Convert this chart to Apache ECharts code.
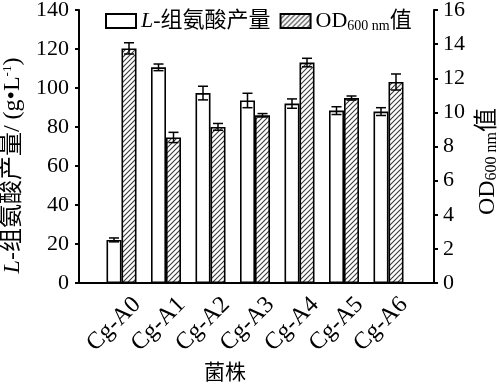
<!DOCTYPE html>
<html><head><meta charset="utf-8">
<script src="https://cdn.jsdelivr.net/npm/echarts@6/dist/echarts.min.js"></script>
<style>html,body{margin:0;padding:0;background:#fff}#c{width:499px;height:384px}</style>
</head><body><div id="c"></div>
<script>
const categories = ['Cg-A0','Cg-A1','Cg-A2','Cg-A3','Cg-A4','Cg-A5','Cg-A6'];
const hisValues = [22.1, 110.6, 97.4, 93.6, 92.0, 88.4, 87.9];
const hisErrors = [1.0, 1.7, 3.5, 3.7, 2.4, 2.0, 2.0];
const odValues = [13.75, 8.53, 9.15, 9.83, 12.92, 10.84, 11.78];
const odErrors = [0.33, 0.3, 0.2, 0.1, 0.25, 0.12, 0.47];
const leftTicks = {min: 0, max: 140, interval: 20};
const rightTicks = {min: 0, max: 16, interval: 2};

const FONT = '"Liberation Serif", "Noto Sans CJK SC", serif';
const BW = 15;

function hatch() {
  const c = document.createElement('canvas');
  c.width = 5; c.height = 5;
  const g = c.getContext('2d');
  g.fillStyle = '#ffffff'; g.fillRect(0,0,5,5);
  g.strokeStyle = '#3a3a3a'; g.lineWidth = 1.1;
  g.beginPath();
  g.moveTo(-1,6); g.lineTo(6,-1);
  g.moveTo(-1,1); g.lineTo(1,-1);
  g.moveTo(4,6); g.lineTo(6,4);
  g.stroke();
  return {image: c, repeat: 'repeat'};
}
const hatchColor = hatch();

function errItem(offset) {
  return function(params, api) {
    const i = api.value(0), v = api.value(1), e = api.value(2);
    const top = api.coord([i, v + e]);
    const bot = api.coord([i, v - e]);
    const x = top[0] + offset;
    const cap = 5;
    const st = {stroke: '#000', lineWidth: 1.5};
    return {type: 'group', children: [
      {type: 'line', shape: {x1: x, y1: top[1], x2: x, y2: bot[1]}, style: st},
      {type: 'line', shape: {x1: x - cap, y1: top[1], x2: x + cap, y2: top[1]}, style: st},
      {type: 'line', shape: {x1: x - cap, y1: bot[1], x2: x + cap, y2: bot[1]}, style: st}
    ]};
  };
}

function rich(size, subSize, subPad) {
  return {
    i: {fontFamily: FONT, fontStyle: 'italic', fontSize: size, color: '#000'},
    n: {fontFamily: FONT, fontSize: size, color: '#000'},
    sub: {fontFamily: FONT, fontSize: subSize, color: '#000', verticalAlign: 'bottom', padding: [subPad, 0, 0, 0]},
    sup: {fontFamily: FONT, fontSize: subSize, color: '#000', verticalAlign: 'top', padding: [0, 0, Math.round(size * 0.45), 0]}
  };
}

const gridBase = {top: 10, bottom: 101, containLabel: false, outerBoundsMode: 'none'};
const chart = echarts.init(document.getElementById('c'), null, {renderer: 'canvas'});
chart.setOption({
  animation: false,
  backgroundColor: '#fff',
  textStyle: {fontFamily: FONT, color: '#000'},
  grid: [
    Object.assign({left: 79, right: 65}, gridBase),
    Object.assign({left: 99.25, right: 88.25}, gridBase),
    Object.assign({left: 114.75, right: 72.75}, gridBase)
  ],
  legend: {
    left: 105, top: 10, padding: 0, itemWidth: 30, itemHeight: 14, itemGap: 9, icon: 'rect',
    data: ['his', 'od'],
    formatter: n => n === 'his' ? '{i|L}{n|-组氨酸产量}' : '{n|OD}{sub|600 nm}{n|值}',
    textStyle: {fontFamily: FONT, fontSize: 22, color: '#000', rich: rich(22, 14, 11)},
    selectedMode: false
  },
  xAxis: [
    {type: 'value', gridIndex: 0, min: 0, max: 1,
      axisLine: {show: true, lineStyle: {color: '#000', width: 2}},
      axisTick: {show: false}, axisLabel: {show: false}, splitLine: {show: false}},
    {type: 'category', gridIndex: 1, data: categories,
      axisLine: {show: false}, axisTick: {show: false}, splitLine: {show: false},
      axisLabel: {show: false},
      name: '菌株', nameLocation: 'middle', nameGap: 80,
      nameTextStyle: {fontSize: 21, fontFamily: FONT, color: '#000', padding: [0, 60, 0, 0]}},
    {type: 'category', gridIndex: 2, data: categories,
      axisLine: {show: false}, axisTick: {show: false}, splitLine: {show: false},
      axisLabel: {rotate: 45, margin: 18, fontSize: 24, fontFamily: FONT, color: '#000', interval: 0}}
  ],
  yAxis: [
    {type: 'value', gridIndex: 0, position: 'left', min: leftTicks.min, max: leftTicks.max, interval: leftTicks.interval,
      axisLine: {show: true, lineStyle: {color: '#000', width: 2}},
      axisTick: {show: true, inside: false, length: 4, lineStyle: {color: '#000', width: 2}},
      splitLine: {show: false},
      axisLabel: {fontSize: 22, fontFamily: FONT, color: '#000', margin: 10},
      name: '{i|L}{n|-组氨酸产量/ (g•L}{sup|-1}{n|)}', nameLocation: 'middle', nameGap: 42, nameRotate: 90,
      nameTextStyle: {fontSize: 24, fontFamily: FONT, color: '#000', rich: rich(24, 13, 12), padding: [0, 38, 0, 0]}},
    {type: 'value', gridIndex: 0, position: 'right', min: rightTicks.min, max: rightTicks.max, interval: rightTicks.interval,
      axisLine: {show: true, lineStyle: {color: '#000', width: 2}},
      axisTick: {show: true, inside: false, length: 4, lineStyle: {color: '#000', width: 2}},
      splitLine: {show: false},
      axisLabel: {fontSize: 22, fontFamily: FONT, color: '#000', margin: 9},
      name: '{n|OD}{sub|600 nm}{n|值}', nameLocation: 'middle', nameGap: 33, nameRotate: 90,
      nameTextStyle: {fontSize: 24, fontFamily: FONT, color: '#000', rich: rich(24, 16, 8), padding: [0, 30, 0, 0]}},
    {type: 'value', gridIndex: 1, show: false, min: leftTicks.min, max: leftTicks.max, splitLine: {show: false}},
    {type: 'value', gridIndex: 1, show: false, min: rightTicks.min, max: rightTicks.max, splitLine: {show: false}},
    {type: 'value', gridIndex: 2, show: false, min: 0, max: 1, splitLine: {show: false}}
  ],
  series: [
    {name: 'his', type: 'bar', xAxisIndex: 1, yAxisIndex: 2, data: hisValues,
      barWidth: BW, barGap: '0%',
      itemStyle: {color: '#fff', borderColor: '#000', borderWidth: 1.6}},
    {name: 'od', type: 'bar', xAxisIndex: 1, yAxisIndex: 3, data: odValues,
      barWidth: BW, barGap: '0%',
      itemStyle: {color: hatchColor, borderColor: '#000', borderWidth: 1.6}},
    {type: 'custom', xAxisIndex: 1, yAxisIndex: 2, z: 5,
      data: hisValues.map((v, i) => [i, v, hisErrors[i]]),
      encode: {x: 0, y: 1}, renderItem: errItem(-BW / 2)},
    {type: 'custom', xAxisIndex: 1, yAxisIndex: 3, z: 5,
      data: odValues.map((v, i) => [i, v, odErrors[i]]),
      encode: {x: 0, y: 1}, renderItem: errItem(BW / 2)}
  ]
});
</script></body></html>
